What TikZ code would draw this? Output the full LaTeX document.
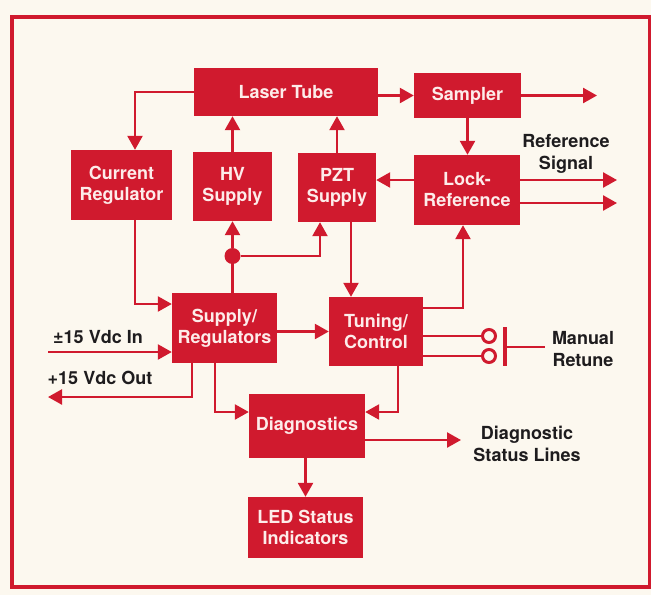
\documentclass[tikz,border=0pt]{standalone}
\usepackage{fontspec}
\setmainfont{TeX Gyre Heros}
\usetikzlibrary{arrows.meta,positioning}
\definecolor{hpred}{RGB}{208,26,46}
\definecolor{paper}{RGB}{252,248,239}
\definecolor{boxtext}{RGB}{253,236,234}
\definecolor{ink}{RGB}{30,28,30}
\begin{document}
\begin{tikzpicture}[x=1pt, y=-1pt, line cap=butt, line join=miter, >={Triangle[length=14pt,width=15pt]}]
	\tikzset{blk/.style={fill=hpred, text=boxtext, align=center, inner sep=0pt, font=\fontsize{18}{21}\selectfont\bfseries},
		sig/.style={draw=hpred, line width=2.5pt},
		arr/.style={sig, ->},
		contact/.style={circle, draw=hpred, fill=paper, line width=3pt, minimum size=13pt, inner sep=0pt},
		lbl/.style={text=ink, align=center, font=\fontsize{18}{22}\selectfont\bfseries}}
	\fill[paper] (0,0) rectangle (651,595);
	\useasboundingbox (0,0) rectangle (651,595);
	\draw[hpred, line width=4pt] (12,17) rectangle (650,587);
	% blocks
	\node[blk, minimum width=184pt, minimum height=48pt] (laser) at (286,92) {Laser Tube};
	\node[blk, minimum width=107pt, minimum height=45pt] (sampler) at (467.5,95.5) {Sampler};
	\node[blk, minimum width=101pt, minimum height=70pt] (curreg) at (121.5,185) {Current\\Regulator};
	\node[blk, minimum width=79pt, minimum height=69pt] (hv) at (232.5,186.5) {HV\\Supply};
	\node[blk, minimum width=78pt, minimum height=69pt] (pzt) at (337,187.5) {PZT\\Supply};
	\node[blk, minimum width=106pt, minimum height=70pt] (lockref) at (467,190) {Lock-\\Reference};
	\node[blk, minimum width=105pt, minimum height=70pt] (supreg) at (224.5,328) {Supply/\\Regulators};
	\node[blk, minimum width=94pt, minimum height=69pt] (tuning) at (376,331.5) {Tuning/\\Control};
	\node[blk, minimum width=116pt, minimum height=64pt] (diag) at (307,426) {Diagnostics};
	\node[blk, minimum width=115pt, minimum height=61pt] (led) at (305.5,527.5) {LED Status\\Indicators};
	\node[circle, fill=hpred, minimum size=16pt, inner sep=0pt] (dot) at (232.5,256) {};
	% free ends
	\coordinate (sampout) at (597,95.5);
	\coordinate (refout1) at (617,180);
	\coordinate (refout2) at (617,203);
	\coordinate (vin) at (48,352);
	\coordinate (vout) at (48,397);
	\coordinate (diagout) at (461,440);
	\node[contact] (sw1) at (489,336) {};
	\node[contact] (sw2) at (489,356) {};
	\coordinate (bartop) at (505,327);
	\coordinate (barbot) at (505,366);
	\coordinate (barmid) at (505,347);
	\coordinate (retune) at (545,347);
	% connectors
	\draw[arr] (laser.west) -| ([xshift=13.5pt]curreg.north);
	\draw[arr] (hv.north) -- (hv.north |- laser.south);
	\draw[arr] (pzt.north) -- (pzt.north |- laser.south);
	\draw[arr] (laser.east |- sampler.west) -- (sampler.west);
	\draw[arr] (sampler.east) -- (sampout);
	\draw[arr] (sampler.south) -- (sampler.south |- lockref.north);
	\draw[arr] ([yshift=10pt]lockref.west) -- ([yshift=10pt]lockref.west -| pzt.east);
	\draw[arr] (lockref.east |- refout1) -- (refout1);
	\draw[arr] (lockref.east |- refout2) -- (refout2);
	\draw[arr] ([xshift=13.5pt]curreg.south) |- ([yshift=24pt]supreg.west);
	\draw[sig] (supreg.north -| dot) -- (dot);
	\draw[arr] (dot) -- (hv.south);
	\draw[arr] (dot) -| ([xshift=-17pt]pzt.south);
	\draw[arr] ([xshift=14pt]pzt.south) -- ([xshift=14pt]pzt.south |- tuning.north);
	\draw[arr] ([yshift=23.5pt]tuning.east) -| ([xshift=-4pt]lockref.south);
	\draw[arr] (supreg.east |- tuning.west) -- (tuning.west);
	\draw[arr] (vin) -- (vin -| supreg.west);
	\draw[arr] ([xshift=-32.5pt]supreg.south) |- (vout);
	\draw[arr] ([xshift=-9.5pt]supreg.south) |- ([yshift=14pt]diag.west);
	\draw[arr] ([xshift=22pt]tuning.south) |- ([yshift=14pt]diag.east);
	\draw[arr] ([yshift=-14pt]diag.east) -- (diagout);
	\draw[arr] (diag.south -| led.north) -- (led.north);
	\draw[sig] (tuning.east |- sw1) -- (sw1.west);
	\draw[sig] (tuning.east |- sw2) -- (sw2.west);
	\draw[sig, line width=3.5pt] (bartop) -- (barbot);
	\draw[sig] (barmid) -- (retune);
	% labels
	\node[lbl] (reflbl) at (566,154) {Reference\\Signal};
	\node[lbl] (inlbl) at (98,337) {±15 Vdc In};
	\node[lbl] (outlbl) at (100,378) {+15 Vdc Out};
	\node[lbl] (statlbl) at (527,444) {Diagnostic\\Status Lines};
	\node[lbl] (manlbl) at (583,349) {Manual\\Retune};
\end{tikzpicture}
\end{document}
